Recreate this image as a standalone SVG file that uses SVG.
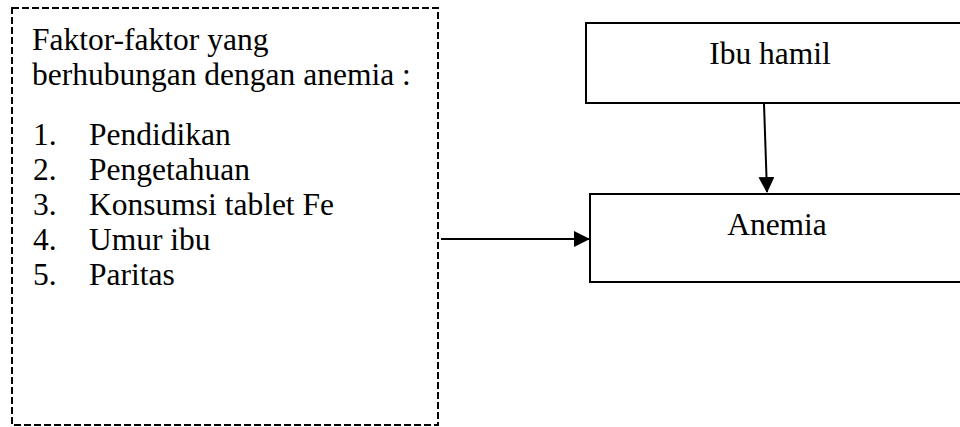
<svg xmlns="http://www.w3.org/2000/svg" width="960" height="427" viewBox="0 0 960 427">
<style>
.t { font-family: 'Liberation Serif', 'Times New Roman', Times, serif; font-size: 31.5px; fill: #000; }
.box { fill: #fff; stroke: #000; stroke-width: 2; }
.dash { fill: #fff; stroke: #000; stroke-width: 2; stroke-dasharray: 7 3; }
.conn { stroke: #000; stroke-width: 2; fill: none; marker-end: url(#arrow); }
</style>
<defs>
<marker id="arrow" markerWidth="8" markerHeight="8" refX="7.5" refY="4" orient="auto" markerUnits="strokeWidth">
<path d="M0,0 L8,4 L0,8 Z" fill="#000"/>
</marker>
</defs>
<rect width="960" height="427" fill="#fff"/>
<g id="factors" font-family="Liberation Serif, Times New Roman, serif">
<rect class="dash" x="12" y="8" width="426" height="417"/>
<text class="t" x="32" y="50">Faktor-faktor yang</text>
<text class="t" x="32" y="85">berhubungan dengan anemia :</text>
<text class="t" x="33" y="145">1.</text><text class="t" x="89" y="145">Pendidikan</text>
<text class="t" x="33" y="180">2.</text><text class="t" x="89" y="180">Pengetahuan</text>
<text class="t" x="33" y="215">3.</text><text class="t" x="89" y="215">Konsumsi tablet Fe</text>
<text class="t" x="33" y="250">4.</text><text class="t" x="89" y="250">Umur ibu</text>
<text class="t" x="33" y="285">5.</text><text class="t" x="89" y="285">Paritas</text>
</g>
<g id="ibu-hamil" font-family="Liberation Serif, Times New Roman, serif">
<rect class="box" x="586" y="23" width="390" height="80"/>
<text class="t" x="770" y="64" text-anchor="middle">Ibu hamil</text>
</g>
<g id="anemia" font-family="Liberation Serif, Times New Roman, serif">
<rect class="box" x="590" y="194" width="390" height="88"/>
<text class="t" x="777" y="235" text-anchor="middle">Anemia</text>
</g>
<g id="connectors">
<line class="conn" x1="764" y1="104" x2="767" y2="192"/>
<line class="conn" x1="441" y1="239" x2="589" y2="239"/>
</g>
</svg>
